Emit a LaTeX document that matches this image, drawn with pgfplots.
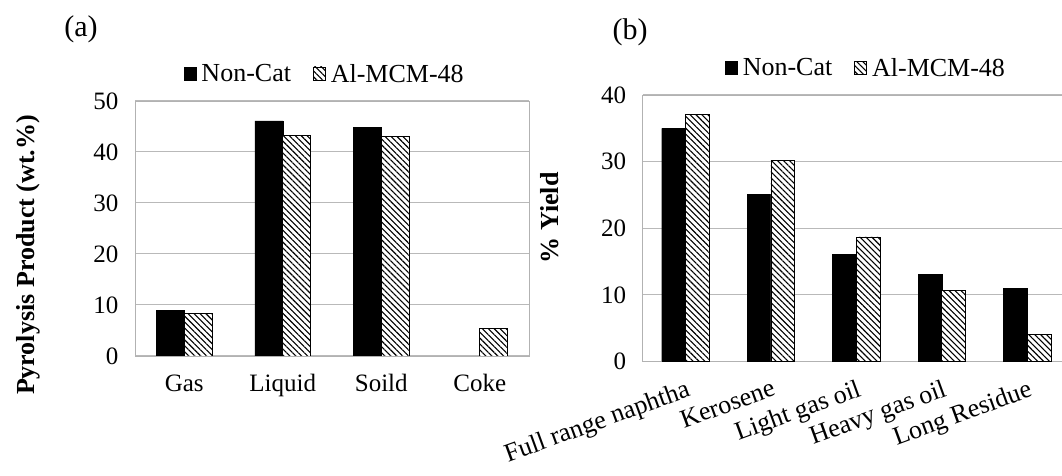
\documentclass[border=0pt]{standalone}
\usepackage{pgfplots}
\pgfplotsset{compat=1.18}
\usepackage{fontspec}
\setmainfont{Liberation Serif}
\usetikzlibrary{patterns.meta}

\pgfplotsset{
 mybars/.style={
  scale only axis, ybar=0pt, ymin=0,
  axis line style={gray!60, line width=0.8pt},
  ymajorgrids, grid style={gray!55, line width=1pt},
  major tick length=0pt,
  tick label style={font=\fontsize{25}{30}\selectfont},
  yticklabel style={xshift=-13pt},
  /pgf/number format/assume math mode=true,
  legend style={draw=none, fill=none, legend columns=-1, anchor=center,
    font=\fontsize{26}{30}\selectfont,
    /tikz/every odd column/.append style={column sep=3pt},
    /tikz/every even column/.append style={column sep=20pt}},
  legend image code/.code={\draw[#1] (0pt,-6pt) rectangle (12pt,7pt);},
  ylabel style={font=\bfseries\fontsize{26}{30}\selectfont, anchor=center},
 },
 nc/.style={fill=black, draw=black},
 al/.style={fill=white, draw=black, line width=0.8pt, postaction={pattern={Lines[angle=-45,distance=4.2pt,line width=1.1pt]}}},
}

\begin{document}
\begin{tikzpicture}
\useasboundingbox (0,0) rectangle (1062pt,476pt);

\begin{axis}[mybars,
  at={(135pt,120pt)}, anchor=south west,
  width=394pt, height=255pt,
  bar width=28pt,
  xmin=-0.5, xmax=3.5, ymax=50,
  xtick={0,1,2,3}, xticklabels={Gas,Liquid,Soild,Coke},
  xticklabel style={yshift=-15pt},
  ytick={0,10,20,30,40,50},
  ylabel={Pyrolysis Product (wt.\%)},
  ylabel style={at={(axis description cs:-0.272,0.396)}},
  legend style={at={(0.482,1.106)}},
]
\addplot[nc] coordinates {(0,8.9) (1,46.1) (2,44.8)};
\addplot[al] coordinates {(0,8.4) (1,43.3) (2,43.1) (3,5.4)};
\legend{Non-Cat, Al-MCM-48}
\end{axis}

\begin{axis}[mybars,
  at={(642.7pt,114.5pt)}, anchor=south west,
  width=427.3pt, height=266.5pt,
  bar width=23.7pt,
  xmin=-0.5, xmax=4.5, ymax=40,
  xtick={0,1,2,3,4},
  xticklabels={Full range naphtha,Kerosene,Light gas oil,Heavy gas oil,Long Residue},
  xticklabel style={rotate=20, anchor=north east, inner sep=2pt, xshift=-4pt, yshift=-14pt, font=\fontsize{26}{30}\selectfont},
  ytick={0,10,20,30,40},
  ylabel={\% Yield},
  ylabel style={at={(axis description cs:-0.217,0.539)}},
  legend style={at={(0.523,1.101)}},
]
\addplot[nc] coordinates {(0,35.0) (1,25.1) (2,16.1) (3,13.1) (4,11.0)};
\addplot[al] coordinates {(0,37.1) (1,30.2) (2,18.7) (3,10.6) (4,4.1)};
\legend{Non-Cat, Al-MCM-48}
\end{axis}

\node[font=\fontsize{30}{34}\selectfont] at (81pt,447pt) {(a)};
\node[font=\fontsize{30}{34}\selectfont] at (630pt,444pt) {(b)};
\end{tikzpicture}
\end{document}
